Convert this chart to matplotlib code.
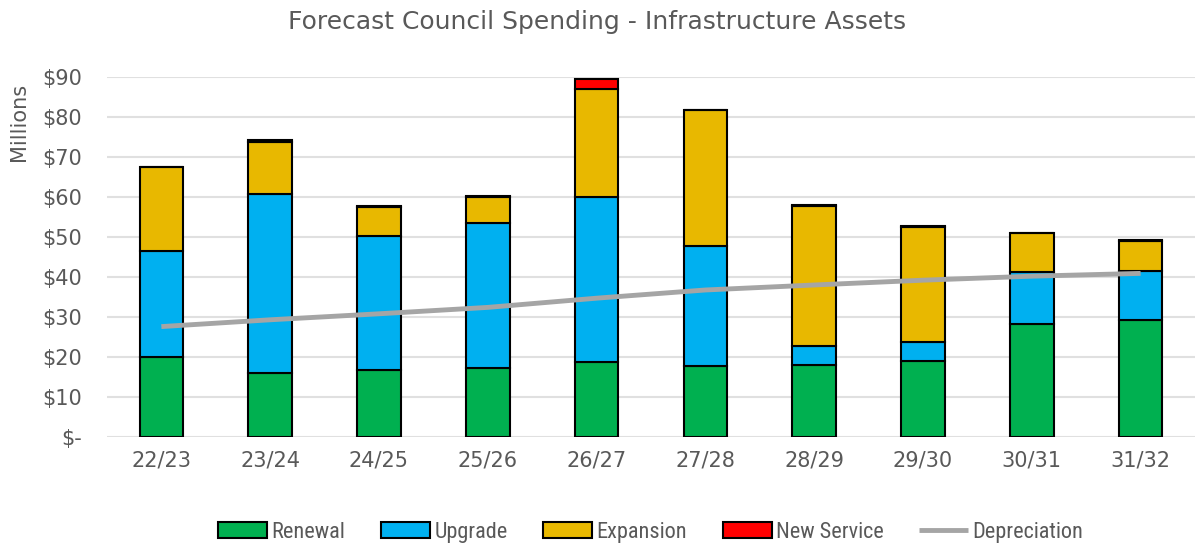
import matplotlib.pyplot as plt
from matplotlib import font_manager
from matplotlib.ticker import FuncFormatter
import numpy as np

plt.rcParams['font.family'] = ['DejaVu Sans']
names = {f.name for f in font_manager.fontManager.ttflist}
legend_font = 'Roboto Condensed' if 'Roboto Condensed' in names else 'DejaVu Sans'

years = ['22/23', '23/24', '24/25', '25/26', '26/27', '27/28', '28/29', '29/30', '30/31', '31/32']
renewal = [20.1, 16.1, 16.8, 17.2, 18.8, 17.75, 18.1, 19.1, 28.25, 29.25]
upgrade = [26.3, 44.65, 33.5, 36.4, 41.2, 30.05, 4.65, 4.7, 13.0, 12.15]
expansion = [21.0, 13.05, 7.2, 6.5, 27.1, 33.95, 35.0, 28.6, 9.65, 7.5]
new_service = [0.0, 0.4, 0.2, 0.2, 2.4, 0.0, 0.3, 0.3, 0.2, 0.3]
depreciation = [27.6, 29.3, 30.8, 32.4, 34.7, 36.75, 38.0, 39.2, 40.2, 40.9]

text_col = '#595959'
fig = plt.figure(figsize=(11.95, 5.44), dpi=100)
ax = fig.add_axes([0.0895, 0.1967, 0.9105, 0.6618])

x = np.arange(len(years))
w = 0.4
bottom = np.zeros(len(years))
series = [('Renewal', renewal, '#00B050'), ('Upgrade', upgrade, '#00B0F0'),
          ('Expansion', expansion, '#E8B800'), ('New Service', new_service, '#FF0000')]
handles = []
for label, vals, col in series:
    h = ax.bar(x, vals, w, bottom=bottom, color=col, edgecolor='black', linewidth=1.5,
               label=label, zorder=2)
    handles.append(h)
    bottom += np.array(vals)

line, = ax.plot(x, depreciation, color='#A5A5A5', linewidth=3.5, label='Depreciation',
                zorder=3, solid_capstyle='butt')
handles.append(line)

ax.set_xlim(-0.5, len(years) - 0.5)
ax.set_ylim(0, 90)
ax.set_yticks(np.arange(0, 91, 10))
ax.yaxis.set_major_formatter(FuncFormatter(lambda v, p: '$-' if v == 0 else f'${v:.0f}'))
ax.set_xticks(x)
ax.set_xticklabels(years)
ax.grid(axis='y', color='#E0E0E0', linewidth=1.5, zorder=0)
for s in ax.spines.values():
    s.set_visible(False)
ax.tick_params(length=0, labelsize=15, colors=text_col)
ax.tick_params(axis='x', pad=10)
ax.tick_params(axis='y', pad=18)
ax.set_ylabel('Millions', fontsize=15, color=text_col)
ax.yaxis.set_label_coords(-0.072, 0.875)

fig.suptitle('Forecast Council Spending - Infrastructure Assets', fontsize=18,
             color=text_col, y=0.982)

ax.legend(handles=handles, loc='center', bbox_to_anchor=(0.5, -0.265), ncol=5, frameon=False,
          prop={'family': legend_font, 'size': 16}, labelcolor=text_col,
          handlelength=2.2, handleheight=0.7, columnspacing=1.6, handletextpad=0.2)

fig.savefig('out.png', dpi=100)
